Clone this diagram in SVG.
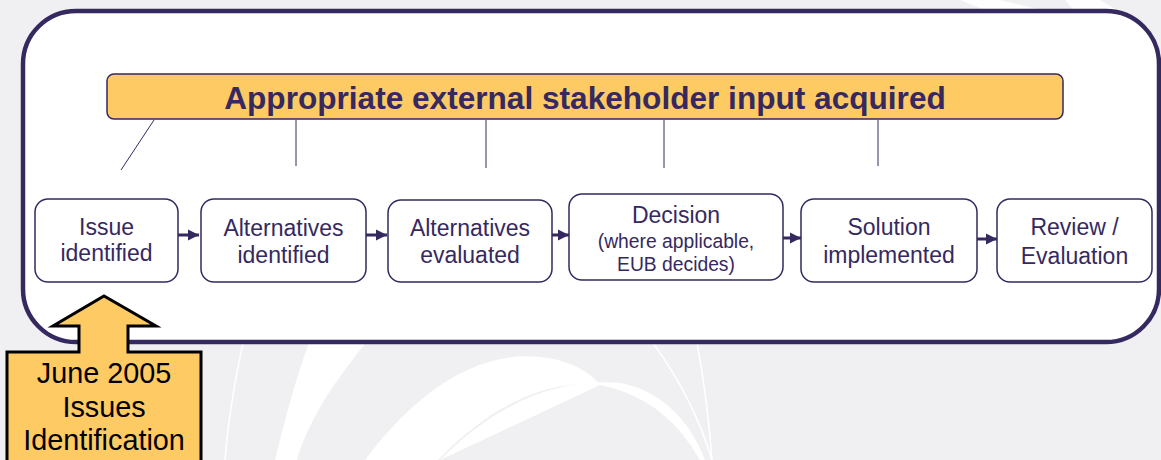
<svg xmlns="http://www.w3.org/2000/svg" width="1161" height="460" viewBox="0 0 1161 460">
<defs>
<style>
.bg{fill:#f0f0f2}
.sw{fill:#ffffff}
.swl{fill:none;stroke:#ffffff;stroke-width:1.5}
.frame{fill:#ffffff;stroke:#35295f;stroke-width:4.5}
.bar{fill:#fdca64;stroke:#35295f;stroke-width:1.5}
.title{font-family:"Liberation Sans",Arial,sans-serif;font-weight:bold;font-size:31.6px;fill:#35295f;text-anchor:middle}
.box{fill:#ffffff;stroke:#35295f;stroke-width:1.5}
.t{font-family:"Liberation Sans",Arial,sans-serif;font-size:23px;fill:#35295f;text-anchor:middle}
.ts{font-family:"Liberation Sans",Arial,sans-serif;font-size:19.3px;fill:#35295f;text-anchor:middle}
.link{stroke:#35295f;stroke-width:1}
.flow{stroke:#35295f;stroke-width:3;fill:none}
.call{fill:#fdca64;stroke:#000000;stroke-width:3}
.ct{font-family:"Liberation Sans",Arial,sans-serif;font-size:28.8px;fill:#000000;text-anchor:middle}
</style>
<marker id="ah" viewBox="0 0 10 10" refX="10" refY="5" markerWidth="3.8" markerHeight="4.2" orient="auto" markerUnits="strokeWidth">
<path d="M0,0 L10,5 L0,10 z" fill="#35295f"/>
</marker>
</defs>
<rect class="bg" x="0" y="0" width="1161" height="460"/>
<g id="background">
<path class="sw" d="M275,460 C285,420 295,380 310,340 L368,340 C340,375 310,415 297,460 z"/>
<path class="sw" d="M365,460 C410,400 470,350 540,357 C570,360 590,372 600,385 C560,380 500,395 438,460 z"/>
<path class="sw" d="M440,460 C500,400 560,378 620,383 C660,390 690,420 705,460 L700,460 C680,425 650,395 600,385 z"/>
<path class="swl" d="M243,343 C235,380 228,420 225,460"/>
<path class="swl" d="M653,343 C680,380 700,420 712,460"/>
<path class="swl" d="M697,343 C704,380 709,420 712,460"/>
<path class="sw" d="M960,0 L1000,0 L1050,12 L990,12 z" opacity="0.9"/>
<path class="sw" d="M1065,0 L1100,0 L1120,12 L1075,12 z" opacity="0.9"/>
</g>
<rect id="frame" class="frame" x="23" y="11" width="1136" height="331" rx="53" ry="53"/>
<g id="connectors">
<line class="link" x1="154" y1="120" x2="121" y2="170"/>
<line class="link" x1="296" y1="120" x2="296" y2="166"/>
<line class="link" x1="486" y1="120" x2="486" y2="168"/>
<line class="link" x1="664" y1="120" x2="664" y2="168"/>
<line class="link" x1="878" y1="120" x2="878" y2="166"/>
<line class="flow" x1="178" y1="235" x2="199" y2="235" marker-end="url(#ah)"/>
<line class="flow" x1="366" y1="235" x2="387" y2="235" marker-end="url(#ah)"/>
<line class="flow" x1="552" y1="235" x2="569" y2="235" marker-end="url(#ah)"/>
<line class="flow" x1="783" y1="238" x2="801" y2="238" marker-end="url(#ah)"/>
<line class="flow" x1="977" y1="239" x2="997" y2="239" marker-end="url(#ah)"/>
</g>
<g id="stakeholder-input">
<rect class="bar" x="107" y="74" width="956" height="45" rx="7" ry="7"/>
<text class="title" x="585" y="109">Appropriate external stakeholder input acquired</text>
</g>
<g id="issue-identified">
<rect class="box" x="35" y="199" width="143" height="83" rx="13" ry="13"/>
<text class="t" x="106.5" y="235">Issue</text>
<text class="t" x="106.5" y="261">identified</text>
</g>
<g id="alternatives-identified">
<rect class="box" x="201" y="199" width="165" height="83" rx="13" ry="13"/>
<text class="t" x="283.5" y="236">Alternatives</text>
<text class="t" x="283.5" y="263">identified</text>
</g>
<g id="alternatives-evaluated">
<rect class="box" x="388" y="200" width="164" height="82" rx="13" ry="13"/>
<text class="t" x="470" y="236">Alternatives</text>
<text class="t" x="470" y="263">evaluated</text>
</g>
<g id="decision">
<rect class="box" x="569" y="194" width="214" height="86" rx="13" ry="13"/>
<text class="t" x="676" y="223">Decision</text>
<text class="ts" x="676" y="248">(where applicable,</text>
<text class="ts" x="676" y="271">EUB decides)</text>
</g>
<g id="solution-implemented">
<rect class="box" x="801" y="199" width="176" height="83" rx="13" ry="13"/>
<text class="t" x="889" y="235">Solution</text>
<text class="t" x="889" y="263">implemented</text>
</g>
<g id="review-evaluation">
<rect class="box" x="997" y="199" width="155" height="83" rx="13" ry="13"/>
<text class="t" x="1074.5" y="235">Review /</text>
<text class="t" x="1074.5" y="264">Evaluation</text>
</g>
<g id="june-2005">
<path class="call" d="M7,352 L79,352 L79,326 L53,326 L104,296 L156,326 L128,326 L128,352 L201,352 L201,472 L7,472 z"/>
<text class="ct" x="104" y="383">June 2005</text>
<text class="ct" x="104" y="417">Issues</text>
<text class="ct" x="104" y="450">Identification</text>
</g>
</svg>
